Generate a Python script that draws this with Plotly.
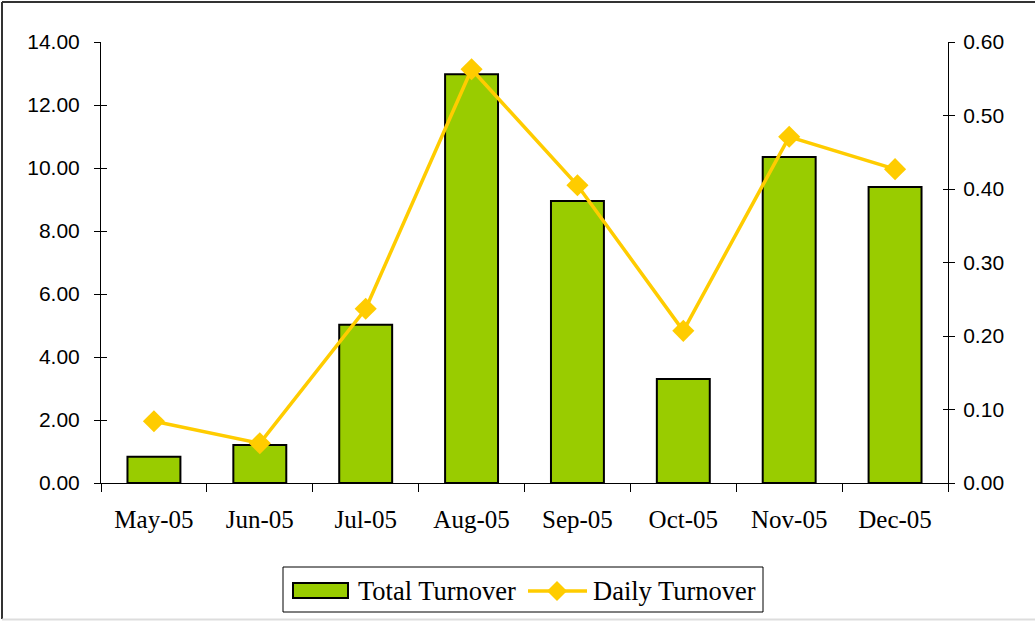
import plotly.graph_objects as go

months = ["May-05", "Jun-05", "Jul-05", "Aug-05", "Sep-05", "Oct-05", "Nov-05", "Dec-05"]
total_turnover = [0.83, 1.21, 5.02, 12.98, 8.95, 3.30, 10.35, 9.40]
daily_turnover = [0.084, 0.054, 0.237, 0.563, 0.405, 0.207, 0.471, 0.427]
left_ticks = [0, 2, 4, 6, 8, 10, 12, 14]
right_ticks = [0, 0.1, 0.2, 0.3, 0.4, 0.5, 0.6]
series_names = ["Total Turnover", "Daily Turnover"]

W, H = 1035, 621
L, R, T, B = 101, 948, 42, 483

BAR_COLOR = "#99CC00"
LINE_COLOR = "#FFCC00"

fig = go.Figure()
fig.add_trace(go.Bar(
    x=months, y=total_turnover, name=series_names[0],
    marker=dict(color=BAR_COLOR, line=dict(color="black", width=2)),
    width=0.5, yaxis="y", showlegend=False,
))
fig.add_trace(go.Scatter(
    x=months, y=daily_turnover, name=series_names[1], yaxis="y2",
    mode="lines+markers",
    line=dict(color=LINE_COLOR, width=3.5),
    marker=dict(symbol="diamond", size=17, color=LINE_COLOR),
    showlegend=False,
))

sans = "Liberation Sans, Arial, sans-serif"
serif = "Liberation Serif, Times New Roman, serif"


def px_x(p):
    return (p - L) / (R - L)


def px_y(p):
    return (B - p) / (B - T)


shapes = [
    # outer chart border
    dict(type="line", xref="paper", yref="paper", x0=px_x(2), x1=px_x(1040), y0=px_y(2), y1=px_y(2),
         line=dict(color="#333333", width=2)),
    dict(type="line", xref="paper", yref="paper", x0=px_x(2), x1=px_x(2), y0=px_y(2), y1=px_y(619),
         line=dict(color="#333333", width=2)),
    dict(type="line", xref="paper", yref="paper", x0=px_x(2), x1=px_x(1040), y0=px_y(619.5), y1=px_y(619.5),
         line=dict(color="#dddddd", width=2)),
    # legend box
    dict(type="rect", xref="paper", yref="paper", x0=px_x(283), x1=px_x(763), y0=px_y(567), y1=px_y(612),
         line=dict(color="black", width=1), fillcolor="white"),
    # legend bar symbol
    dict(type="rect", xref="paper", yref="paper", x0=px_x(293), x1=px_x(348), y0=px_y(583), y1=px_y(598),
         line=dict(color="black", width=2), fillcolor=BAR_COLOR),
    # legend line symbol
    dict(type="line", xref="paper", yref="paper", x0=px_x(528), x1=px_x(587), y0=px_y(591), y1=px_y(591),
         line=dict(color=LINE_COLOR, width=3.5)),
]
# legend diamond
cx, cy, hw, hh = 557, 591, 10, 10
shapes.append(dict(
    type="path", xref="paper", yref="paper",
    path=(f"M {px_x(cx - hw)} {px_y(cy)} L {px_x(cx)} {px_y(cy - hh)} "
          f"L {px_x(cx + hw)} {px_y(cy)} L {px_x(cx)} {px_y(cy + hh)} Z"),
    fillcolor=LINE_COLOR, line=dict(color=LINE_COLOR, width=0),
))

annotations = [
    dict(text=series_names[0], xref="paper", yref="paper", x=px_x(356), y=px_y(591),
         xanchor="left", yanchor="middle", showarrow=False,
         font=dict(family=serif, size=26.5, color="black")),
    dict(text=series_names[1], xref="paper", yref="paper", x=px_x(591), y=px_y(591),
         xanchor="left", yanchor="middle", showarrow=False,
         font=dict(family=serif, size=26.5, color="black")),
]

fig.update_layout(
    width=W, height=H,
    margin=dict(l=L, r=W - R, t=T, b=H - B, pad=0),
    paper_bgcolor="white", plot_bgcolor="white",
    showlegend=False,
    xaxis=dict(
        type="category", showgrid=False, showline=True, linecolor="black", linewidth=1,
        ticks="outside", ticklen=8, tickcolor="black", tickson="boundaries",
        tickfont=dict(family=serif, size=25, color="black"),
        ticklabelstandoff=14, range=[-0.5, 7.5], zeroline=False,
    ),
    yaxis=dict(
        range=[0, 14], tickvals=left_ticks, tickformat=".2f", showgrid=False,
        showline=True, linecolor="black", linewidth=1,
        ticks="outside", ticklen=6, tickcolor="black",
        tickfont=dict(family=sans, size=21, color="black"), zeroline=False,
        ticklabelstandoff=10,
    ),
    yaxis2=dict(
        range=[0, 0.6], tickvals=right_ticks, tickformat=".2f", overlaying="y", side="right",
        showgrid=False, showline=True, linecolor="black", linewidth=1,
        ticks="outside", ticklen=6, tickcolor="black",
        tickfont=dict(family=sans, size=21, color="black"), zeroline=False,
        ticklabelstandoff=4,
    ),
    yaxis3=dict(
        range=[0, 14], tickvals=left_ticks, overlaying="y", side="left", showticklabels=False,
        showgrid=False, showline=False, ticks="inside", ticklen=6, tickcolor="black", zeroline=False,
    ),
    yaxis4=dict(
        range=[0, 0.6], tickvals=right_ticks, overlaying="y", side="right", showticklabels=False,
        showgrid=False, showline=False, ticks="inside", ticklen=5, tickcolor="black", zeroline=False,
    ),
    shapes=shapes,
    annotations=annotations,
)
# dummy traces for the inside-tick overlay axes
fig.add_trace(go.Scatter(x=[months[0]], y=[None], yaxis="y3", showlegend=False, hoverinfo="skip"))
fig.add_trace(go.Scatter(x=[months[0]], y=[None], yaxis="y4", showlegend=False, hoverinfo="skip"))

fig.write_html("out.html", config={"displayModeBar": False},
               post_script="document.body.style.margin='0';")
